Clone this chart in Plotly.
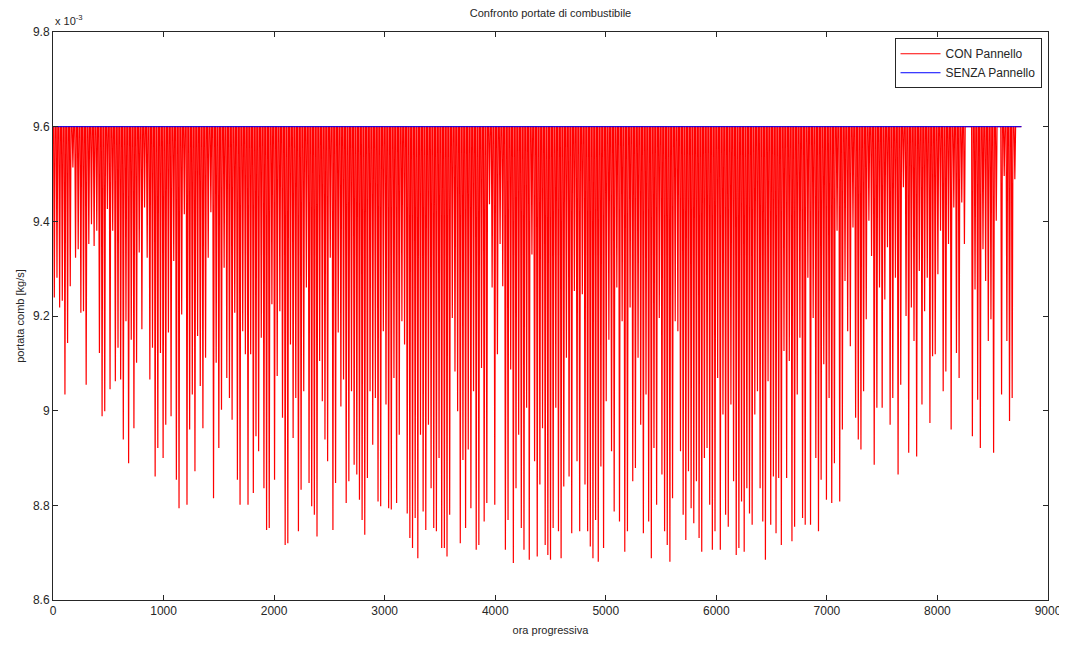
import plotly.graph_objects as go

# Fuel flow (x 10^-3 kg/s)
baseline = 9.6            # SENZA Pannello (constant)
hours_per_year = 8760

# Daily minimum of fuel flow with panel (CON Pannello), one value per day (365 days), x 10^-3 kg/s
daily_min_1 = [9.239, 9.281, 9.218, 9.232, 9.034, 9.143, 9.263, 9.514, 9.323, 9.341, 9.207, 9.210,
               9.055, 9.352, 9.394, 9.348, 9.380, 9.122, 8.988, 8.999, 9.426, 9.045, 9.380, 9.062,
               9.133, 9.066, 8.939, 9.189, 8.889, 9.150, 8.963, 9.101, 9.334, 9.172, 9.429, 9.323]
daily_min_2 = [9.066, 9.133, 8.861, 8.921, 9.122, 8.900, 8.970, 9.165, 8.988, 9.316, 8.854, 8.794,
               9.203, 9.415, 8.801, 8.960, 9.034, 8.872, 9.158, 9.052, 8.963, 9.112, 9.323, 9.419,
               8.815, 9.101, 8.921, 9.002, 9.302, 9.069, 9.027, 8.981, 9.207, 8.854, 8.801, 9.168, 9.119]
daily_min_3 = [8.801, 9.119, 8.826, 8.946, 8.914, 9.154, 8.836, 8.748, 8.752, 9.225, 8.854, 9.073,
               9.210, 8.985, 8.716, 8.720, 9.140, 8.942, 9.027, 8.745, 8.833, 9.041, 9.260, 8.847,
               8.798, 8.780, 8.734, 9.105, 9.020, 8.939, 8.893, 9.323, 8.748, 8.847, 9.165, 9.009, 9.066]
daily_min_4 = [8.805, 8.851, 9.041, 8.886, 8.865, 8.812, 8.769, 8.738, 8.858, 9.041, 8.928, 9.027,
               8.808, 8.798, 9.168, 9.013, 8.794, 8.791, 9.069, 8.805, 8.949, 9.189, 9.140, 8.783,
               8.731, 8.710, 8.773, 8.688, 8.949, 8.787, 8.748, 8.970, 8.836, 8.752, 8.745, 8.900, 8.710]
daily_min_5 = [8.710, 8.692, 8.780, 9.196, 9.083, 8.999, 8.720, 8.896, 8.752, 8.918, 8.794, 9.041,
               8.706, 8.716, 9.090, 8.766, 8.805, 9.436, 9.260, 8.801, 9.119, 9.352, 9.263, 8.706,
               8.769, 9.087, 8.678, 8.836, 8.949, 8.752, 8.706, 9.006, 8.685, 9.330, 8.893, 8.692, 8.844]
daily_min_6 = [8.963, 8.716, 8.695, 8.685, 8.752, 9.006, 8.745, 8.688, 8.840, 9.112, 8.861, 8.741,
               9.253, 8.893, 8.745, 9.246, 8.844, 8.745, 8.713, 8.688, 8.769, 8.681, 8.882, 8.710,
               9.020, 9.150, 8.914, 8.787, 9.260, 8.766, 9.189, 8.702, 8.745, 9.218, 8.851, 8.879, 9.112]
daily_min_7 = [8.970, 8.741, 9.034, 8.766, 8.688, 8.921, 8.801, 9.196, 8.865, 8.745, 8.716, 8.681,
               8.815, 9.189, 9.168, 8.914, 8.780, 8.727, 8.872, 8.794, 8.762, 8.851, 8.731, 8.702,
               8.900, 8.921, 8.801, 8.706, 8.745, 9.069, 8.706, 8.992, 8.780, 8.755, 9.013, 8.851, 8.695]
daily_min_8 = [8.710, 8.808, 8.702, 8.836, 8.783, 8.759, 8.992, 9.041, 8.836, 8.766, 8.685, 9.062,
               8.759, 8.861, 8.741, 8.858, 8.716, 9.126, 8.858, 9.105, 8.724, 8.755, 9.034, 9.154,
               8.773, 8.759, 9.281, 8.759, 9.196, 8.900, 8.745, 8.854, 9.098, 8.812, 9.027, 8.805, 8.889]
daily_min_9 = [9.380, 8.808, 8.960, 9.274, 9.168, 9.136, 9.387, 8.985, 8.939, 8.918, 9.041, 9.193,
               9.401, 9.327, 8.886, 9.006, 9.260, 9.006, 9.235, 9.345, 8.970, 9.027, 9.281, 8.865,
               9.055, 9.472, 9.200, 8.911, 9.218, 9.147, 8.903, 9.295, 9.013, 9.210, 9.281, 8.974, 9.115]
daily_min_10 = [9.119, 9.288, 9.380, 9.041, 9.083, 9.352, 8.960, 9.429, 9.122, 9.069, 9.440, 9.352,
                9.6, 9.6, 8.946, 9.256, 9.023, 8.921, 9.341, 9.274, 9.147, 9.193, 8.911, 9.401,
                9.6, 9.034, 9.496, 9.147, 8.978, 9.027, 9.489, 9.6, 9.6]

daily_min = (daily_min_1 + daily_min_2 + daily_min_3 + daily_min_4 + daily_min_5 +
             daily_min_6 + daily_min_7 + daily_min_8 + daily_min_9 + daily_min_10)

# hours of the day: sunrise, solar noon, sunset
hour_morning, hour_noon, hour_evening = 5, 12, 19

x_con = [0]
y_con = [baseline]
for d, m in enumerate(daily_min):
    x_con += [24 * d + hour_morning, 24 * d + hour_noon, 24 * d + hour_evening]
    y_con += [baseline, m, baseline]
x_con.append(hours_per_year - 1)
y_con.append(baseline)

x_senza = [0, hours_per_year]
y_senza = [baseline, baseline]

x_ticks = [0, 1000, 2000, 3000, 4000, 5000, 6000, 7000, 8000, 9000]
y_ticks = [8.6, 8.8, 9.0, 9.2, 9.4, 9.6, 9.8]
y_ticktext = ["8.6", "8.8", "9", "9.2", "9.4", "9.6", "9.8"]

font_family = "Liberation Sans, Arial, sans-serif"
ink = "#262626"

fig = go.Figure()
fig.add_trace(go.Scatter(x=x_con, y=y_con, mode="lines", name="CON Pannello",
                         line=dict(color="#FF0000", width=1.2)))
fig.add_trace(go.Scatter(x=x_senza, y=y_senza, mode="lines", name="SENZA Pannello",
                         line=dict(color="#0000FF", width=1)))

axis_common = dict(showline=True, linecolor=ink, linewidth=1, mirror="ticks",
                   ticks="inside", ticklen=5, tickcolor=ink, showgrid=False,
                   zeroline=False, automargin=False,
                   tickfont=dict(family=font_family, size=12, color=ink))

# page body has an 8 px margin: figure is sized/offset so the plot box lands at x 53..1048, y 32..600
fig.update_layout(
    width=1059, height=639,
    margin=dict(l=45, r=19, t=24, b=47),
    paper_bgcolor="white", plot_bgcolor="white",
    font=dict(family=font_family, size=11, color=ink),
    title=dict(text="Confronto portate di combustibile", x=(45 + 1040) / 2 / 1059, xanchor="center",
               y=1 - 1 / 639, yanchor="top", font=dict(size=11, family=font_family, color=ink)),
    xaxis=dict(range=[0, 9000], tickvals=x_ticks,
               title=dict(text="ora progressiva", standoff=8, font=dict(size=11)), **axis_common),
    yaxis=dict(range=[8.6, 9.8], tickvals=y_ticks, ticktext=y_ticktext,
               title=dict(text="portata comb [kg/s]", standoff=6, font=dict(size=11)), **axis_common),
    legend=dict(x=0.9935, y=0.989, xanchor="right", yanchor="top", bgcolor="white",
                bordercolor=ink, borderwidth=1, font=dict(size=12, family=font_family, color=ink),
                tracegroupgap=0, itemwidth=40, traceorder="normal"),
    showlegend=True,
)

fig.add_annotation(text="x 10<sup>-3</sup>", xref="paper", yref="paper", x=0, y=1,
                   xanchor="left", yanchor="bottom", showarrow=False, yshift=3,
                   font=dict(size=11, family=font_family, color=ink))

fig.write_html("out.html")
